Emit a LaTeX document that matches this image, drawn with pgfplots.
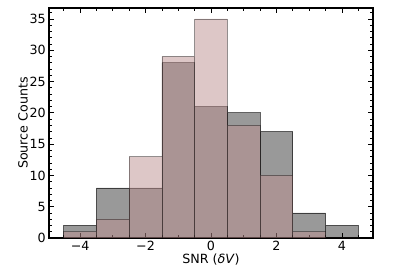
\documentclass[border=0pt]{standalone}
\usepackage{pgfplots}
\pgfplotsset{compat=1.18}
\usepackage{fontspec}
\setmainfont{DejaVu Sans}
\definecolor{rosy}{RGB}{188,143,143}
\begin{document}
\begin{tikzpicture}
\path[use as bounding box] (-36.75pt,-24.75pt) rectangle (268.5pt,178.5pt);
\begin{axis}[
  at={(0,0)}, anchor=south west,
  scale only axis, width=243pt, height=172.5pt,
  xmin=-4.95, xmax=4.95, ymin=0, ymax=36.75,
  xtick={-4,-2,0,2,4}, xticklabels={−4,−2,0,2,4},
  minor xtick={-4.5,-4,...,4.5},
  ytick={0,5,...,35}, minor ytick={0,1,...,36},
  tick align=inside, tick pos=both,
  major tick length=3.5pt, minor tick length=2pt,
  every tick/.style={black, line width=0.5pt},
  axis line style={line width=0.8pt},
  /pgf/number format/assume math mode=true,
  tick label style={font=\fontsize{9.5}{11}\selectfont},
  label style={font=\fontsize{9.5}{11}\selectfont},
  xticklabel style={yshift=1pt},
  yticklabel style={xshift=1pt},
  xlabel={SNR (\textit{δV})}, ylabel={Source Counts},
  xlabel style={yshift=5pt}, ylabel style={yshift=-5.5pt},
]
\addplot[ybar, bar width=1, bar shift=0pt, fill=black, fill opacity=0.4, draw=black, draw opacity=0.6, line width=0.6pt] coordinates {
(-4,2) (-3,8) (-2,8) (-1,28) (0,21) (1,20) (2,17) (3,4) (4,2)};
\addplot[ybar, bar width=1, bar shift=0pt, fill=rosy, fill opacity=0.5, draw=black, draw opacity=0.4, line width=0.6pt] coordinates {
(-4,1) (-3,3) (-2,13) (-1,29) (0,35) (1,18) (2,10) (3,1) (4,0)};
\end{axis}
\end{tikzpicture}
\end{document}
